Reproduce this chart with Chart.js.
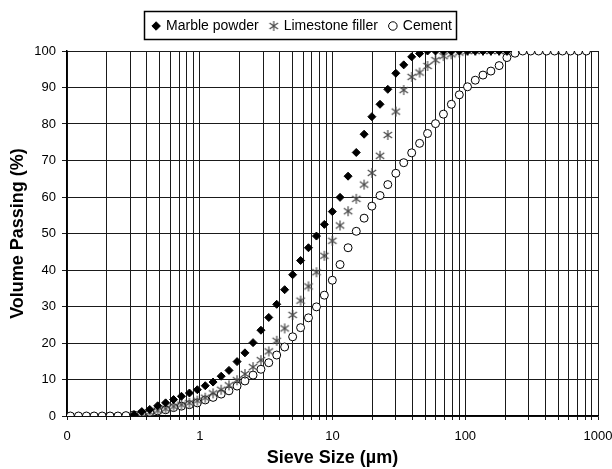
<!DOCTYPE html>
<html>
<head>
<meta charset="utf-8">
<script src="https://cdn.jsdelivr.net/npm/chart.js"></script>
<style>
  html, body { margin: 0; padding: 0; background: #fff; }
  #wrap { width: 612px; height: 469px; }
</style>
</head>
<body>
<div id="wrap"><canvas id="chart" width="612" height="469"></canvas></div>
<script>
// particle sizes (um), shared by all three series
const sieveSizes = [
  0.106, 0.122, 0.140, 0.160, 0.184, 0.211, 0.242, 0.278, 0.319, 0.366,
  0.420, 0.482, 0.553, 0.635, 0.728, 0.836, 0.959, 1.10, 1.26, 1.45,
  1.66, 1.91, 2.19, 2.52, 2.89, 3.31, 3.80, 4.36, 5.01, 5.75,
  6.59, 7.57, 8.68, 9.97, 11.4, 13.1, 15.1, 17.3, 19.8, 22.8,
  26.1, 30.0, 34.4, 39.5, 45.3, 52.0, 59.7, 68.5, 78.6, 90.2,
  104, 119, 136, 156, 180, 206, 237, 271, 311, 357,
  410, 471, 540, 620, 712, 817
];

const marblePowder = [
  null, null, null, null, null, null, null, null, 0.3, 1.2,
  1.8, 2.8, 3.6, 4.5, 5.4, 6.3, 7.2, 8.3, 9.3, 10.9,
  12.5, 14.9, 17.3, 20.1, 23.5, 27.0, 30.6, 34.6, 38.7, 42.6,
  46.1, 49.3, 52.5, 56.0, 59.9, 65.7, 72.2, 77.2, 82.0, 85.4,
  89.5, 93.9, 96.2, 98.4, 99.3, 100, 100, 100, 100, 100,
  100, 100, 100, 100, 100, 100
];

const limestoneFiller = [
  null, null, null, null, null, null, null, null, 0.2, 0.6,
  1.0, 1.5, 2.0, 2.6, 3.1, 3.6, 4.2, 5.0, 6.2, 7.2,
  8.4, 9.8, 11.5, 13.4, 15.3, 17.7, 20.6, 24.0, 27.7, 31.6,
  35.5, 39.4, 43.9, 48.0, 52.2, 56.1, 59.5, 63.4, 66.6, 71.3,
  77.0, 83.4, 89.3, 92.9, 94.1, 95.9, 97.5, 98.6, 99.1, 99.6,
  100, 100, 100, 100, 100, 100
];

const cement = [
  0, 0, 0, 0, 0, 0, 0, 0.1, 0.3, 0.7,
  1.0, 1.4, 1.7, 2.3, 2.7, 3.1, 3.6, 4.4, 5.1, 6.0,
  6.9, 8.2, 9.6, 11.2, 12.8, 14.6, 16.7, 18.9, 21.7, 24.2,
  26.9, 29.9, 33.1, 37.2, 41.5, 46.1, 50.6, 54.2, 57.5, 60.4,
  63.4, 66.5, 69.4, 72.1, 74.7, 77.4, 80.1, 82.7, 85.4, 88.0,
  90.2, 92.0, 93.4, 94.5, 96.0, 98.2, 99.4, 100, 100, 100,
  100, 100, 100, 100, 100, 100
];

const xTicks = [
  0.1, 0.2, 0.3, 0.4, 0.5, 0.6, 0.7, 0.8, 0.9,
  1, 2, 3, 4, 5, 6, 7, 8, 9,
  10, 20, 30, 40, 50, 60, 70, 80, 90,
  100, 200, 300, 400, 500, 600, 700, 800, 900,
  1000
];
const xTickLabels = { 0.1: '0', 1: '1', 10: '10', 100: '100', 1000: '1000' };

function toPoints(vals) {
  const pts = [];
  vals.forEach((v, i) => {
    if (v !== null) pts.push({ x: sieveSizes[i], y: v });
  });
  return pts;
}

function makeAsterisk(size) {
  const c = document.createElement('canvas');
  c.width = size;
  c.height = size;
  const g = c.getContext('2d');
  const m = size / 2;
  const r = size / 2 - 1;
  g.strokeStyle = '#4a4a4a';
  g.lineWidth = 1.2;
  g.beginPath();
  g.moveTo(m, m - r); g.lineTo(m, m + r);
  g.moveTo(m - r * 0.85, m - r * 0.6); g.lineTo(m + r * 0.85, m + r * 0.6);
  g.moveTo(m + r * 0.85, m - r * 0.6); g.lineTo(m - r * 0.85, m + r * 0.6);
  g.stroke();
  return c;
}

// extra room between the legend and the plot
const legendGap = {
  id: 'legendGap',
  beforeInit(chart) {
    const origFit = chart.legend.fit;
    chart.legend.fit = function () {
      origFit.bind(chart.legend)();
      this.height += 8;
    };
  }
};

const legendBorder = {
  id: 'legendBorder',
  afterDraw(chart) {
    const hb = chart.legend.legendHitBoxes;
    if (!hb || !hb.length) return;
    const ctx = chart.ctx;
    const left = Math.min(...hb.map(b => b.left)) - 9;
    const right = Math.max(...hb.map(b => b.left + b.width)) + 4;
    const top = hb[0].top - 8;
    const bottom = hb[0].top + hb[0].height + 6;
    ctx.save();
    ctx.strokeStyle = '#000';
    ctx.lineWidth = 1.5;
    ctx.strokeRect(Math.round(left) + 0.5, Math.round(top) + 0.5, Math.round(right - left), Math.round(bottom - top));
    ctx.restore();
  }
};

const font = "'Liberation Sans', Arial, sans-serif";

new Chart(document.getElementById('chart'), {
  type: 'scatter',
  data: {
    datasets: [
      {
        label: 'Marble powder',
        data: toPoints(marblePowder),
        pointStyle: 'rectRot',
        pointRadius: 4,
        backgroundColor: '#000',
        borderColor: '#000',
        borderWidth: 1
      },
      {
        label: 'Limestone filler',
        data: toPoints(limestoneFiller),
        pointStyle: makeAsterisk(12),
        pointRadius: 5,
        backgroundColor: '#4a4a4a',
        borderColor: '#4a4a4a'
      },
      {
        label: 'Cement',
        data: toPoints(cement),
        pointStyle: 'circle',
        pointRadius: 4,
        backgroundColor: '#fff',
        borderColor: '#000',
        borderWidth: 1
      }
    ]
  },
  options: {
    responsive: false,
    animation: false,
    layout: { padding: { top: 7, right: 14, left: 7, bottom: 0 } },
    plugins: {
      tooltip: { enabled: false },
      legend: {
        position: 'top',
        labels: {
          usePointStyle: true,
          boxWidth: 6,
          boxHeight: 6,
          padding: 12,
          color: '#000',
          font: { family: font, size: 14 }
        }
      }
    },
    scales: {
      x: {
        type: 'logarithmic',
        min: 0.1,
        max: 1000,
        afterBuildTicks: scale => {
          scale.ticks = xTicks.map(v => ({ value: v }));
        },
        afterFit: scale => {
          scale.height = 53;
          scale.paddingLeft = 0;
          scale.paddingRight = 0;
        },
        ticks: {
          autoSkip: false,
          maxRotation: 0,
          padding: 9,
          color: '#000',
          font: { family: font, size: 13 },
          callback: v => xTickLabels[v] !== undefined ? xTickLabels[v] : ''
        },
        grid: { color: '#1a1a1a', lineWidth: 1, tickLength: 4 },
        border: { color: '#000', width: 1.5 },
        title: {
          display: true,
          text: 'Sieve Size (µm)',
          color: '#000',
          font: { family: font, size: 18, weight: 'bold' },
          padding: { top: 2, bottom: 0 }
        }
      },
      y: {
        min: 0,
        max: 100,
        afterFit: scale => {
          scale.width = 60;
          scale.paddingTop = 0;
        },
        ticks: {
          stepSize: 10,
          padding: 6,
          color: '#000',
          font: { family: font, size: 13 }
        },
        grid: { color: '#1a1a1a', lineWidth: 1, tickLength: 5 },
        border: { color: '#000', width: 1.5 },
        title: {
          display: true,
          text: 'Volume Passing (%)',
          color: '#000',
          font: { family: font, size: 18, weight: 'bold' },
          padding: { top: 0, bottom: 4 }
        }
      }
    }
  },
  plugins: [legendGap, legendBorder]
});
</script>
</body>
</html>
